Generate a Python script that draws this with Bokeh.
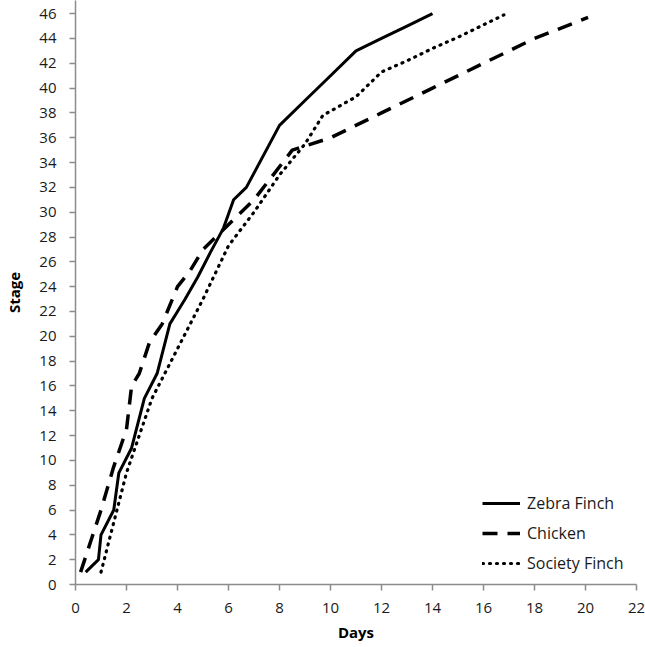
from bokeh.plotting import figure
from bokeh.models import Range1d, FixedTicker, Legend, LegendItem
from bokeh.embed import file_html
from bokeh.resources import INLINE

# Data
zebra_days = [0.4, 0.9, 1.0, 1.5, 1.7, 2.2, 2.7, 3.2, 3.7, 4.0, 4.3, 4.8, 5.3, 5.8, 6.2, 6.7, 8.0, 9.0, 10.0, 11.0, 12.0, 13.0, 14.0]
zebra_stage = [1, 2, 4, 6, 9, 11, 15, 17, 21, 22, 23, 24.8, 26.8, 28.7, 31, 32, 37, 39, 41, 43, 44, 45, 46]

chicken_days = [0.2, 0.6, 1.0, 1.5, 2.0, 2.2, 2.5, 2.9, 3.4, 4.0, 4.5, 5.0, 7.0, 8.5, 10.0, 12.0, 14.0, 16.0, 18.0, 20.1]
chicken_stage = [1, 3.5, 6, 9.5, 12.5, 16, 17, 19.5, 21, 24, 25.3, 27, 31, 35, 36, 38, 40, 42, 44, 45.7]

society_days = [1.0, 1.5, 2.0, 3.0, 4.0, 5.0, 6.0, 7.0, 8.0, 9.0, 9.7, 11.0, 12.0, 13.0, 14.0, 15.0, 16.0, 16.8]
society_stage = [1, 5, 9, 15, 19, 23, 27.3, 30, 33, 35.5, 37.8, 39.3, 41.3, 42.2, 43.2, 44.1, 45.1, 45.9]

x_ticks = list(range(0, 23, 2))
y_ticks = list(range(0, 47, 2))

FONT = "Open Sans"
AXIS_GRAY = "#8c8c8c"

p = figure(width=645, height=647, output_backend="svg", toolbar_location=None,
           x_range=Range1d(0, 22), y_range=Range1d(0, 47.06),
           min_border_left=75, min_border_right=9, min_border_top=0, min_border_bottom=63)
p.outline_line_color = None
p.grid.visible = False
p.background_fill_color = "white"
p.border_fill_color = "white"

for ax, ticks in ((p.xaxis[0], x_ticks), (p.yaxis[0], y_ticks)):
    ax.ticker = FixedTicker(ticks=ticks)
    ax.axis_line_color = AXIS_GRAY
    ax.axis_line_width = 1.5
    ax.major_tick_line_color = AXIS_GRAY
    ax.major_tick_line_width = 1.5
    ax.major_tick_out = 6
    ax.major_tick_in = 0
    ax.minor_tick_line_color = None
    ax.major_label_text_font = FONT
    ax.major_label_text_font_size = "15px"
    ax.major_label_text_color = "#1a1a1a"
    ax.axis_label_text_font = FONT
    ax.axis_label_text_font_size = "15px"
    ax.axis_label_text_font_style = "bold"
    ax.axis_label_text_color = "#000000"

p.xaxis.axis_label = "Days"
p.yaxis.axis_label = "Stage"
p.xaxis.major_label_standoff = 12
p.xaxis.axis_label_standoff = 6
p.yaxis.major_label_standoff = 13
p.yaxis.axis_label_standoff = 12

r_z = p.line(zebra_days, zebra_stage, line_color="black", line_width=3, line_join="round")
r_c = p.line(chicken_days, chicken_stage, line_color="black", line_width=3.5,
             line_dash="15 10", line_join="round")
r_s = p.line(society_days, society_stage, line_color="black", line_width=3.2,
             line_dash="1 6", line_cap="round", line_join="round")

legend = Legend(items=[LegendItem(label="Zebra Finch", renderers=[r_z]),
                       LegendItem(label="Chicken", renderers=[r_c]),
                       LegendItem(label="Society Finch", renderers=[r_s])],
                location=(407, 10))
legend.padding = 0
legend.margin = 0
legend.spacing = 8
legend.glyph_width = 38
legend.glyph_height = 20
legend.label_height = 20
legend.label_standoff = 7
legend.label_text_font = FONT
legend.label_text_font_size = "16px"
legend.label_text_color = "#1a1a1a"
legend.background_fill_alpha = 0
legend.border_line_alpha = 0
p.add_layout(legend)

open("out.html", "w").write(file_html(p, INLINE))
